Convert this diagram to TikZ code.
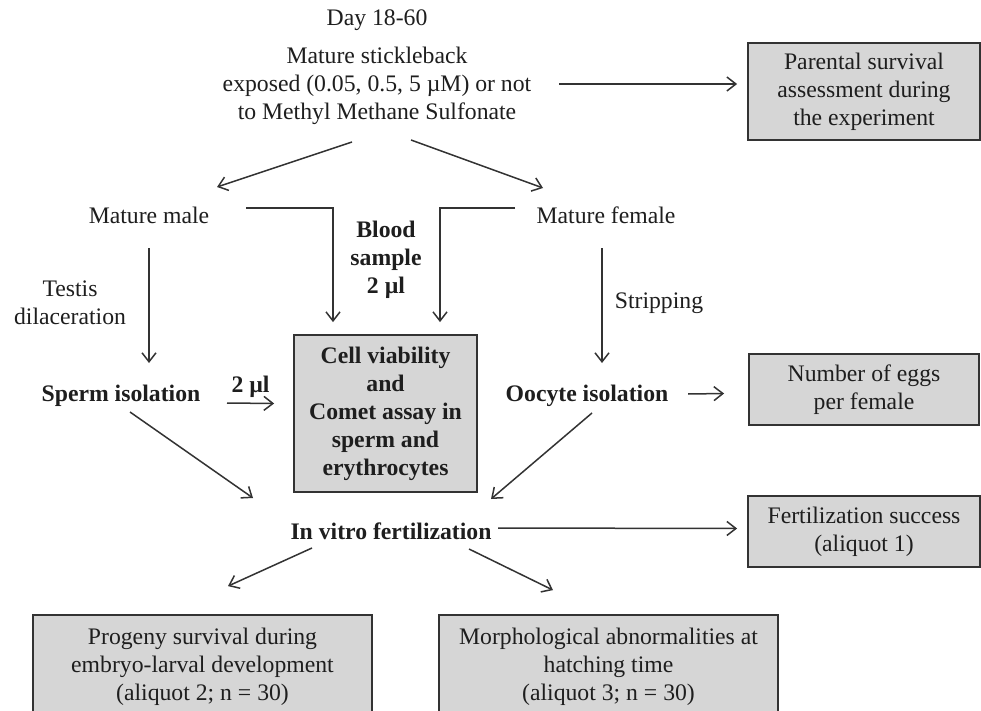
\documentclass[tikz,border=0pt]{standalone}
\usepackage{fontspec}
\setmainfont{Liberation Serif}
\usetikzlibrary{arrows.meta,calc}
\definecolor{boxfill}{HTML}{D6D6D6}
\definecolor{linecol}{HTML}{333333}
\definecolor{txtcol}{HTML}{1E1E1E}
\tikzset{
  txt/.style={inner sep=0pt, align=center, text=txtcol, font=\fontsize{23.7}{28}\selectfont},
  btxt/.style={txt, font=\fontsize{23.7}{28}\selectfont\bfseries},
  graybox/.style={txt, draw=linecol, line width=1.8pt, fill=boxfill},
  arr/.style={draw=linecol, line width=1.5pt, -{Straight Barb[length=9pt,width=14pt,line width=1.5pt]}},
  ln/.style={draw=linecol, line width=1.5pt}
}
\begin{document}
\begin{tikzpicture}[x=1pt,y=-1pt]
\clip (0,0) rectangle (981,711);
\fill[white] (0,0) rectangle (981,711);

% text nodes
\node[txt] (day) at (377,20) {Day 18-60};
\node[txt] (stick) at (377,86) {Mature stickleback\\exposed (0.05, 0.5, 5 µM) or not\\to Methyl Methane Sulfonate};
\node[txt] (male) at (149,215) {Mature male};
\node[txt] (female) at (606,215) {Mature female};
\node[btxt] (blood) at (386,260) {Blood\\sample\\2 µl};
\node[txt] (testis) at (70,303) {Testis\\dilaceration};
\node[txt] (strip) at (659,303) {Stripping};
\node[btxt] (sperm) at (121,396) {Sperm isolation};
\node[btxt] (oocyte) at (587,396) {Oocyte isolation};
\node[btxt] (ivf) at (391,531) {In vitro fertilization};

% boxes
\node[graybox, minimum width=232pt, minimum height=97pt] (par) at (864,91.5) {Parental survival\\assessment during\\the experiment};
\node[graybox, minimum width=183pt, minimum height=157pt, font=\fontsize{23.7}{28}\selectfont\bfseries] (cell) at (385.5,413.5) {Cell viability\\and\\Comet assay in\\sperm and\\erythrocytes};
\node[graybox, minimum width=230pt, minimum height=71pt] (eggs) at (864,389.5) {Number of eggs\\per female};
\node[graybox, minimum width=232pt, minimum height=71pt] (fert) at (864,531.5) {Fertilization success\\(aliquot 1)};
\node[graybox, minimum width=339pt, minimum height=103pt] (prog) at (202.5,666.5) {Progeny survival during\\embryo-larval development\\(aliquot 2; n = 30)};
\node[graybox, minimum width=339pt, minimum height=103pt] (morph) at (608.5,666.5) {Morphological abnormalities at\\hatching time\\(aliquot 3; n = 30)};

% connectors
\draw[arr] ($(stick.east)+(28,-2)$) -- ($(par.west |- stick.east)+(-10,-2)$);
\draw[arr] ($(stick.center)+(-25,56)$) -- ($(male.center)+(68,-28)$);
\draw[arr] ($(stick.center)+(34,54)$) -- ($(female.center)+(-63,-27)$);
\draw[arr] ($(male.center)+(97,-7)$) -| ($(cell.north)+(-52.5,-12)$);
\draw[arr] ($(female.center)+(-91,-7)$) -| ($(cell.north)+(54.5,-12)$);
\draw[arr] ($(male.center)+(0,33)$) -- ($(sperm.center)+(28,-33)$);
\draw[arr] ($(female.center)+(-4,33)$) -- ($(oocyte.center)+(15,-33)$);
\draw[arr] ($(sperm.center)+(106,7)$) -- node[btxt, above=5pt] (twoul) {2 µl} ($(cell.west)+(-19,-10)$);
\draw[arr] ($(oocyte.center)+(101,-2)$) -- ($(eggs.west)+(-24,4)$);
\draw[arr] ($(sperm.center)+(9,16)$) -- ($(ivf.center)+(-138,-33)$);
\draw[arr] ($(oocyte.center)+(5,17)$) -- ($(ivf.center)+(100,-32)$);
\draw[arr] ($(ivf.center)+(107,-3)$) -- ($(fert.west)+(-10,-3)$);
\draw[arr] ($(ivf.center)+(-79,17)$) -- ($(prog.north)+(25.5,-28)$);
\draw[arr] ($(ivf.center)+(78,18)$) -- ($(morph.north)+(-55.5,-24)$);
\end{tikzpicture}
\end{document}
